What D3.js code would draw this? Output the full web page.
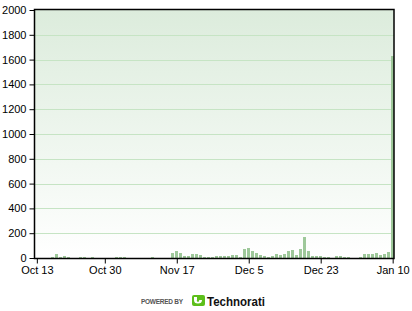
<!DOCTYPE html>
<html>
<head>
<meta charset="utf-8">
<script src="https://cdn.jsdelivr.net/npm/d3@7"></script>
<style>
  body { margin: 0; background: #fff; }
  svg text { font-family: "Liberation Sans", Arial, sans-serif; }
</style>
</head>
<body>
<svg id="chart_svg" width="412" height="311"></svg>
<script>
// data: one post count per day, starting at first_day
var first_day = "2006-10-13";
var day_counts = [
    0, 0, 0, 0, 8, 32, 8, 16, 8, 0,
    0, 8, 8, 0, 8, 0, 0, 0, 0, 0,
    8, 8, 8, 0, 0, 0, 0, 0, 0, 8,
    0, 0, 0, 0, 40, 56, 40, 16, 16, 32,
    32, 24, 8, 8, 8, 16, 16, 16, 16, 24,
    24, 8, 72, 80, 56, 40, 24, 16, 8, 16,
    32, 24, 32, 56, 64, 24, 72, 168, 56, 16,
    16, 16, 8, 8, 0, 16, 16, 8, 8, 0,
    0, 8, 32, 32, 32, 40, 24, 32, 48, 1630
];
var x_tick_dates = ["2006-10-13", "2006-10-30", "2006-11-17", "2006-12-05", "2006-12-23", "2007-01-10"];
var y_ticks = [0, 200, 400, 600, 800, 1000, 1200, 1400, 1600, 1800, 2000];

var g_box = { left: 34, right: 394, top: 10, bottom: 258 };

draw_chart();
draw_logo();

function draw_chart() {
    var svg = d3.select("#chart_svg");
    var parse = d3.utcParse("%Y-%m-%d");
    var start = parse(first_day);
    var data = day_counts.map(function (v, i) { return { date: d3.utcDay.offset(start, i), value: v }; });

    // scales (4 px a day, bar centred on its day)
    var x = d3.scaleUtc()
        .domain([d3.utcHour.offset(data[0].date, -17), d3.utcHour.offset(data[data.length - 1].date, 8)])
        .range([g_box.left, g_box.right]);
    var y = d3.scaleLinear().domain([0, 2000]).range([g_box.bottom, g_box.top]);

    // background gradient
    var grad = svg.append("defs").append("linearGradient").attr("id", "bg_grad")
        .attr("x1", 0).attr("y1", 0).attr("x2", 0).attr("y2", 1);
    grad.append("stop").attr("offset", "0%").attr("stop-color", "#dcecdc");
    grad.append("stop").attr("offset", "100%").attr("stop-color", "#ffffff");
    svg.append("rect")
        .attr("x", g_box.left).attr("y", g_box.top)
        .attr("width", g_box.right - g_box.left).attr("height", g_box.bottom - g_box.top)
        .attr("fill", "url(#bg_grad)");

    // grid
    svg.selectAll(".grid").data(y_ticks.filter(d => d > 0 && d < 2000)).join("line").classed("grid", true)
        .attr("x1", g_box.left).attr("x2", g_box.right)
        .attr("y1", d => Math.round(y(d)) + 0.5).attr("y2", d => Math.round(y(d)) + 0.5)
        .attr("style", "stroke:#c6e4c4; stroke-width:1");

    // bars
    svg.selectAll(".bar").data(data.filter(d => d.value > 0)).join("rect").classed("bar", true)
        .attr("x", d => Math.round(x(d.date) - 1.5))
        .attr("y", d => Math.round(y(d.value)))
        .attr("width", 3)
        .attr("height", d => g_box.bottom - Math.round(y(d.value)))
        .attr("shape-rendering", "crispEdges")
        .attr("fill", "#9ec89a");

    // frame
    svg.append("rect")
        .attr("x", g_box.left + 0.5).attr("y", g_box.top - 0.5)
        .attr("width", g_box.right - g_box.left - 0.5).attr("height", g_box.bottom - g_box.top + 1)
        .attr("style", "fill:none; stroke:#000; stroke-width:1.5");

    // axes
    var y_axis = d3.axisLeft(y).tickValues(y_ticks).tickSize(5).tickPadding(3).tickFormat(d3.format("d"));
    svg.append("g").attr("transform", "translate(" + (g_box.left + 0.5) + ",0)").call(y_axis)
        .call(g => g.select(".domain").remove())
        .call(g => g.selectAll("text").attr("font-size", 11).attr("fill", "#000")
            .attr("font-family", "'Liberation Sans', Arial, sans-serif"));

    var x_axis = d3.axisBottom(x).tickValues(x_tick_dates.map(parse)).tickSize(5).tickPadding(3)
        .tickFormat(d3.utcFormat("%b %-d"));
    svg.append("g").attr("transform", "translate(0," + (g_box.bottom + 0.5) + ")").call(x_axis)
        .call(g => g.select(".domain").remove())
        .call(g => g.selectAll("text").attr("font-size", 11).attr("fill", "#000")
            .attr("font-family", "'Liberation Sans', Arial, sans-serif"));
}

function draw_logo() {
    var g = d3.select("#chart_svg").append("g");
    g.append("text").attr("x", 141).attr("y", 304)
        .attr("font-size", 6.5).attr("font-weight", "bold").attr("fill", "#555")
        .attr("textLength", 42).attr("lengthAdjust", "spacing").text("POWERED BY");
    // green mark
    g.append("rect").attr("x", 192).attr("y", 295).attr("width", 13).attr("height", 11)
        .attr("rx", 2).attr("fill", "#5cbf1a");
    g.append("path").attr("d", "M194,300 a4,3.5 0 1,0 8,0 h-3 a1.2,1.2 0 1,1 -2,0 v-3 h-3 z")
        .attr("fill", "#fff");
    g.append("text").attr("x", 207).attr("y", 306)
        .attr("font-size", 12.5).attr("font-weight", "bold").attr("fill", "#111")
        .attr("textLength", 58).attr("lengthAdjust", "spacingAndGlyphs").text("Technorati");
}
</script>
</body>
</html>
